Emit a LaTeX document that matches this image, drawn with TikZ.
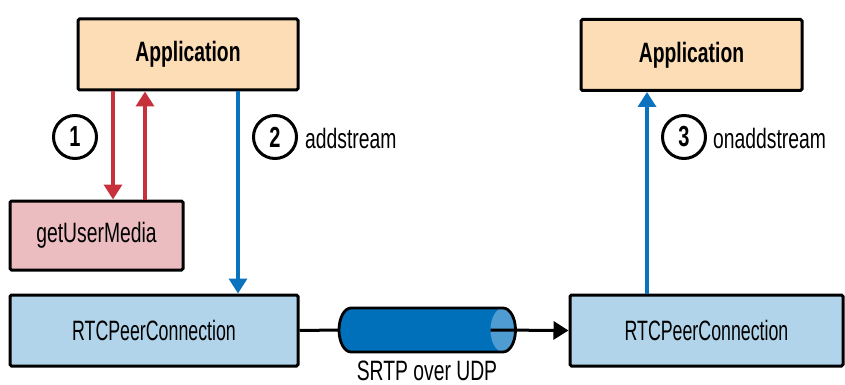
\documentclass[tikz,border=0pt]{standalone}
\usepackage{fontspec}
\setmainfont[FakeStretch=0.69]{Liberation Sans}
\newfontfamily\rtcfont[FakeStretch=0.635]{Liberation Sans}
\usetikzlibrary{arrows.meta}
\definecolor{appfill}{HTML}{FCDDB5}
\definecolor{gumfill}{HTML}{EBBDC0}
\definecolor{rtcfill}{HTML}{B1D4EA}
\definecolor{redarr}{HTML}{C7313B}
\definecolor{bluearr}{HTML}{0B72BD}
\definecolor{tubefill}{HTML}{0070BA}
\definecolor{capfill}{HTML}{4E9CD2}
\begin{document}
\begin{tikzpicture}[x=1pt,y=-1pt,
 box/.style={draw, line width=3pt, rounded corners=1.5pt, inner sep=0pt, font=\fontsize{28}{30}\selectfont},
 num/.style={circle, draw, line width=3pt, minimum size=43pt, inner sep=0pt, font=\bfseries\fontsize{29}{30}\selectfont},
 lbl/.style={anchor=west, inner sep=0pt, font=\fontsize{28}{30}\selectfont},
 arr/.style={line width=3.5pt, -{Triangle[length=15pt,width=18pt]}},
]
\useasboundingbox (0,0) rectangle (845,385);
% boxes
\node[box, fill=appfill, minimum width=220pt, minimum height=71pt, font=\bfseries\fontsize{28}{30}\selectfont] (app1) at (188,54.5) {Application};
\node[box, fill=appfill, minimum width=221pt, minimum height=71pt, font=\bfseries\fontsize{28}{30}\selectfont] (app2) at (691.5,55) {Application};
\node[box, fill=gumfill, minimum width=173pt, minimum height=69pt] (gum) at (96.5,235.5) {getUserMedia};
\node[box, fill=rtcfill, minimum width=288pt, minimum height=71pt, font=\rtcfont\fontsize{28}{30}\selectfont] (rtc1) at (154,330.5) {RTCPeerConnection};
\node[box, fill=rtcfill, minimum width=273pt, minimum height=71pt, font=\rtcfont\fontsize{28}{30}\selectfont] (rtc2) at (706.5,330.5) {RTCPeerConnection};
% column coordinates
\coordinate (xa) at (113,0);
\coordinate (xb) at (145,0);
\coordinate (xc) at (238,0);
\coordinate (xd) at (647,0);
% arrows
\draw[arr, redarr] (app1.south -| xa) -- (gum.north -| xa);
\draw[arr, redarr] (gum.north -| xb) -- (app1.south -| xb);
\draw[arr, bluearr] (app1.south -| xc) -- (rtc1.north -| xc);
\draw[arr, bluearr] (rtc2.north -| xd) -- (app2.south -| xd);
% step markers
\node[num] (n1) at (75,137) {1};
\node[num] (n2) at (275,137) {2};
\node[num] (n3) at (684,137) {3};
\node[lbl] (l2) at (305,138) {addstream};
\node[lbl] (l3) at (713,138) {onaddstream};
% tube
\node[minimum width=176pt, minimum height=44pt, inner sep=0pt] (tube) at (427,330) {};
\fill[tubefill] (351,308) -- (503,308) arc[start angle=-90, end angle=90, x radius=12.5, y radius=22] -- (351,352) arc[start angle=90, end angle=270, x radius=12, y radius=22] -- cycle;
\fill[capfill] (503,330) ellipse [x radius=12.5, y radius=22];
\draw[line width=2.8pt] (351,308) -- (503,308) arc[start angle=-90, end angle=90, x radius=12.5, y radius=22] -- (351,352) arc[start angle=90, end angle=270, x radius=12, y radius=22] -- cycle;
\coordinate (capL) at (490.5,330);
\draw[line width=3pt] (rtc1.east) -- (tube.west);
\draw[arr, black, line width=3pt] (capL) -- (rtc2.west);
\node[font=\fontsize{28}{30}\selectfont, inner sep=0pt] (srtp) at (427,371) {SRTP over UDP};
\end{tikzpicture}
\end{document}
